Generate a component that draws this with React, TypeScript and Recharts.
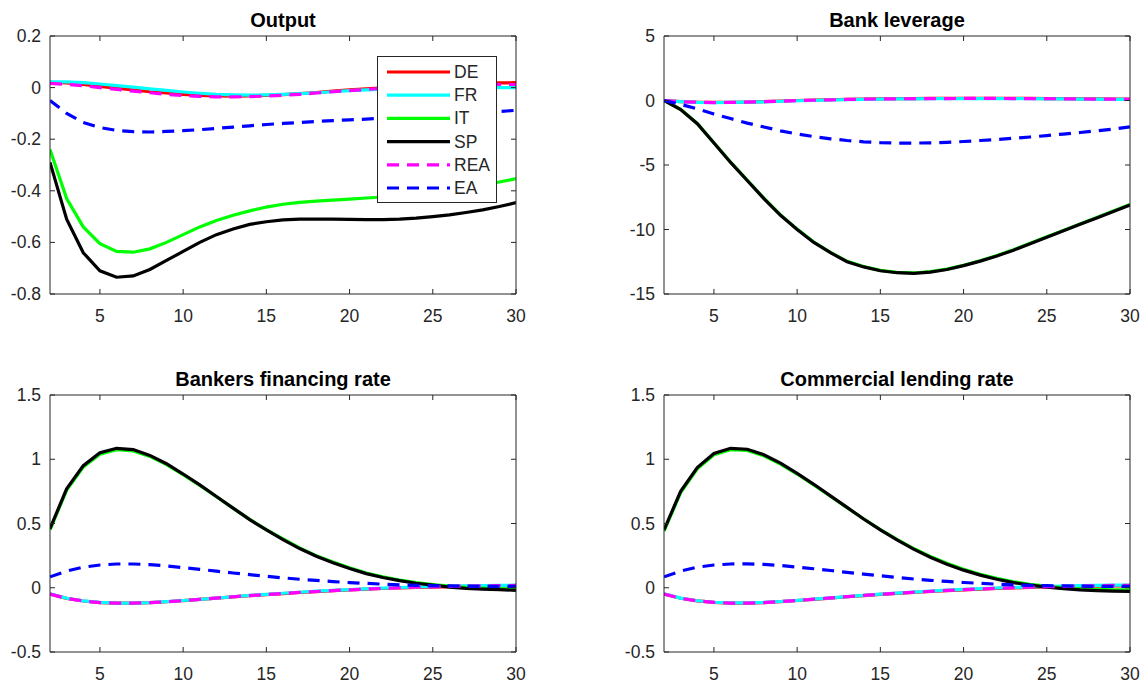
import { Line, LineChart, XAxis, YAxis } from "recharts";

const periods = [2, 3, 4, 5, 6, 7, 8, 9, 10, 11, 12, 13, 14, 15, 16, 17, 18, 19, 20, 21, 22, 23, 24, 25, 26, 27, 28, 29, 30];
const xTicks = [5, 10, 15, 20, 25, 30];

// Output
const outDE = [0.02, 0.018, 0.012, 0.005, -0.002, -0.009, -0.016, -0.021, -0.026, -0.03, -0.032, -0.033, -0.032, -0.03, -0.027, -0.023, -0.019, -0.014, -0.009, -0.005, -0.001, 0.003, 0.007, 0.01, 0.013, 0.015, 0.017, 0.018, 0.019];
const outFR = [0.022, 0.022, 0.019, 0.014, 0.008, 0.002, -0.005, -0.011, -0.017, -0.022, -0.026, -0.028, -0.029, -0.028, -0.026, -0.023, -0.02, -0.016, -0.012, -0.009, -0.006, -0.003, -0.001, 0.0, 0.001, 0.001, 0.001, 0.0, 0.0];
const outIT = [-0.24, -0.43, -0.54, -0.605, -0.635, -0.638, -0.625, -0.6, -0.57, -0.54, -0.515, -0.495, -0.478, -0.463, -0.452, -0.445, -0.44, -0.436, -0.432, -0.428, -0.424, -0.418, -0.412, -0.405, -0.397, -0.388, -0.378, -0.366, -0.353];
const outSP = [-0.29, -0.51, -0.64, -0.71, -0.735, -0.73, -0.705, -0.67, -0.635, -0.6, -0.57, -0.548, -0.53, -0.52, -0.513, -0.51, -0.51, -0.51, -0.511, -0.512, -0.512, -0.51, -0.506, -0.5, -0.493, -0.484, -0.474, -0.461, -0.446];
const outREA = [0.016, 0.013, 0.007, 0.0, -0.007, -0.014, -0.02, -0.026, -0.031, -0.034, -0.036, -0.036, -0.035, -0.033, -0.03, -0.026, -0.021, -0.016, -0.012, -0.007, -0.003, 0.0, 0.003, 0.006, 0.008, 0.01, 0.011, 0.012, 0.012];
const outEA = [-0.05, -0.1, -0.135, -0.155, -0.166, -0.171, -0.172, -0.17, -0.167, -0.163, -0.158, -0.153, -0.148, -0.143, -0.139, -0.135, -0.131, -0.128, -0.125, -0.122, -0.119, -0.116, -0.113, -0.11, -0.106, -0.102, -0.098, -0.093, -0.088];

// Bank leverage
const levDE = [0, -0.08, -0.13, -0.15, -0.14, -0.12, -0.08, -0.04, 0.0, 0.03, 0.06, 0.09, 0.11, 0.13, 0.14, 0.15, 0.16, 0.16, 0.17, 0.17, 0.17, 0.16, 0.16, 0.15, 0.14, 0.13, 0.12, 0.11, 0.1];
const levFR = [0, -0.09, -0.14, -0.16, -0.15, -0.13, -0.1, -0.06, -0.02, 0.01, 0.04, 0.07, 0.09, 0.11, 0.12, 0.13, 0.14, 0.14, 0.15, 0.15, 0.15, 0.14, 0.14, 0.13, 0.12, 0.11, 0.1, 0.09, 0.08];
const levIT = [0, -0.68, -1.78, -3.27, -4.77, -6.17, -7.57, -8.87, -9.97, -10.97, -11.77, -12.47, -12.87, -13.17, -13.32, -13.37, -13.27, -13.07, -12.77, -12.42, -12.02, -11.57, -11.07, -10.57, -10.07, -9.57, -9.07, -8.57, -8.07];
const levSP = [0, -0.7, -1.8, -3.3, -4.8, -6.2, -7.6, -8.9, -10.0, -11.0, -11.8, -12.5, -12.9, -13.2, -13.35, -13.4, -13.3, -13.1, -12.8, -12.45, -12.05, -11.6, -11.1, -10.6, -10.1, -9.6, -9.1, -8.6, -8.1];
const levREA = [0, -0.09, -0.14, -0.16, -0.15, -0.12, -0.09, -0.05, -0.01, 0.02, 0.05, 0.08, 0.1, 0.12, 0.13, 0.14, 0.15, 0.15, 0.16, 0.16, 0.16, 0.15, 0.15, 0.14, 0.13, 0.12, 0.11, 0.1, 0.09];
const levEA = [0, -0.3, -0.65, -1.05, -1.4, -1.75, -2.05, -2.35, -2.6, -2.8, -2.97, -3.1, -3.2, -3.27, -3.3, -3.3, -3.28, -3.24, -3.18, -3.1, -3.02, -2.93, -2.83, -2.72, -2.6, -2.48, -2.35, -2.22, -2.05];

// Bankers financing rate
const finDE = [-0.05, -0.083, -0.103, -0.115, -0.12, -0.12, -0.116, -0.109, -0.1, -0.091, -0.081, -0.071, -0.062, -0.053, -0.045, -0.037, -0.03, -0.023, -0.017, -0.011, -0.006, -0.002, 0.002, 0.005, 0.008, 0.01, 0.012, 0.013, 0.014];
const finFR = [-0.048, -0.082, -0.102, -0.114, -0.119, -0.119, -0.115, -0.108, -0.099, -0.09, -0.08, -0.07, -0.06, -0.051, -0.043, -0.035, -0.027, -0.02, -0.014, -0.008, -0.003, 0.002, 0.006, 0.009, 0.012, 0.015, 0.017, 0.019, 0.02];
const finIT = [0.45, 0.76, 0.94, 1.04, 1.075, 1.065, 1.022, 0.958, 0.88, 0.796, 0.708, 0.62, 0.532, 0.453, 0.38, 0.31, 0.25, 0.2, 0.155, 0.115, 0.085, 0.06, 0.04, 0.025, 0.012, 0.003, -0.003, -0.007, -0.01];
const finSP = [0.46, 0.77, 0.95, 1.05, 1.085, 1.075, 1.03, 0.965, 0.885, 0.8, 0.71, 0.62, 0.53, 0.45, 0.375, 0.305, 0.245, 0.195, 0.15, 0.11, 0.08, 0.055, 0.035, 0.02, 0.005, -0.005, -0.01, -0.015, -0.02];
const finREA = [-0.049, -0.083, -0.103, -0.115, -0.12, -0.12, -0.116, -0.109, -0.1, -0.09, -0.08, -0.07, -0.061, -0.052, -0.044, -0.036, -0.029, -0.022, -0.016, -0.01, -0.005, 0.0, 0.004, 0.007, 0.01, 0.013, 0.015, 0.017, 0.018];
const finEA = [0.085, 0.13, 0.16, 0.177, 0.185, 0.185, 0.18, 0.17, 0.157, 0.143, 0.129, 0.115, 0.102, 0.089, 0.077, 0.066, 0.057, 0.048, 0.04, 0.034, 0.028, 0.023, 0.019, 0.016, 0.014, 0.012, 0.011, 0.01, 0.01];

// Commercial lending rate
const lendDE = [-0.05, -0.082, -0.102, -0.114, -0.119, -0.119, -0.115, -0.108, -0.099, -0.09, -0.08, -0.07, -0.061, -0.052, -0.044, -0.036, -0.029, -0.022, -0.016, -0.01, -0.005, -0.001, 0.003, 0.006, 0.009, 0.011, 0.013, 0.014, 0.015];
const lendFR = [-0.048, -0.081, -0.101, -0.113, -0.118, -0.118, -0.114, -0.107, -0.098, -0.089, -0.079, -0.069, -0.059, -0.05, -0.042, -0.034, -0.026, -0.019, -0.013, -0.007, -0.002, 0.003, 0.007, 0.01, 0.013, 0.016, 0.018, 0.02, 0.021];
const lendIT = [0.44, 0.74, 0.925, 1.035, 1.075, 1.068, 1.027, 0.963, 0.885, 0.801, 0.712, 0.623, 0.535, 0.452, 0.376, 0.305, 0.244, 0.19, 0.144, 0.105, 0.073, 0.047, 0.027, 0.012, 0.0, -0.008, -0.013, -0.016, -0.017];
const lendSP = [0.45, 0.75, 0.935, 1.045, 1.085, 1.078, 1.035, 0.97, 0.89, 0.805, 0.715, 0.625, 0.535, 0.45, 0.372, 0.3, 0.238, 0.183, 0.137, 0.098, 0.066, 0.04, 0.02, 0.005, -0.007, -0.016, -0.022, -0.026, -0.028];
const lendREA = [-0.049, -0.082, -0.102, -0.114, -0.119, -0.119, -0.115, -0.108, -0.099, -0.089, -0.079, -0.069, -0.06, -0.051, -0.043, -0.035, -0.028, -0.021, -0.015, -0.009, -0.004, 0.001, 0.005, 0.008, 0.011, 0.014, 0.016, 0.018, 0.019];
const lendEA = [0.085, 0.13, 0.16, 0.177, 0.185, 0.186, 0.182, 0.173, 0.161, 0.148, 0.134, 0.12, 0.106, 0.093, 0.08, 0.068, 0.058, 0.049, 0.041, 0.034, 0.028, 0.023, 0.019, 0.016, 0.014, 0.012, 0.011, 0.01, 0.01];

const SERIES = [
  { key: "DE", color: "#ff0000", dashed: false },
  { key: "FR", color: "#00ffff", dashed: false },
  { key: "IT", color: "#00ff00", dashed: false },
  { key: "SP", color: "#000000", dashed: false },
  { key: "REA", color: "#ff00ff", dashed: true },
  { key: "EA", color: "#0000ff", dashed: true },
];

const FONT = '"Liberation Sans", Arial, Helvetica, sans-serif';
const AXIS = "#262626";
const DASH = "12 8";
const LW = 3.2;

function makeRows(cols: number[][]) {
  return periods.map((p, i) => {
    const row: Record<string, number> = { p };
    SERIES.forEach((s, j) => (row[s.key] = cols[j][i]));
    return row;
  });
}

// MATLAB-style ticks: short inward marks, labels outside
const BottomTick = ({ x, y, payload }: any) => (
  <g>
    <line x1={x} x2={x} y1={y} y2={y - 5} stroke={AXIS} />
    <text x={x} y={y + 22} textAnchor="middle" dominantBaseline="central" fontSize={17.5} fill={AXIS} fontFamily={FONT}>
      {payload.value}
    </text>
  </g>
);
const LeftTick = ({ x, y, payload }: any) => (
  <g>
    <line x1={x} x2={x + 5} y1={y} y2={y} stroke={AXIS} />
    <text x={x - 9} y={y} textAnchor="end" dominantBaseline="central" fontSize={17.5} fill={AXIS} fontFamily={FONT}>
      {payload.value}
    </text>
  </g>
);
const TopTick = ({ x, y }: any) => <line x1={x} x2={x} y1={y} y2={y + 5} stroke={AXIS} />;
const RightTick = ({ x, y }: any) => <line x1={x} x2={x - 5} y1={y} y2={y} stroke={AXIS} />;

function LegendBox({ left, top }: { left: number; top: number }) {
  return (
    <svg width={120} height={147} style={{ position: "absolute", left, top, display: "block" }}>
      <rect x={0.5} y={0.5} width={119} height={146} fill="#fff" stroke={AXIS} strokeWidth={1} />
      {SERIES.map((s, i) => {
        const cy = 16 + i * 23.2;
        return (
          <g key={s.key}>
            <line x1={10} x2={73} y1={cy} y2={cy} stroke={s.color} strokeWidth={LW} strokeDasharray={s.dashed ? DASH : undefined} />
            <text x={77} y={cy} dominantBaseline="central" fontSize={17.5} fill={AXIS} fontFamily={FONT}>
              {s.key}
            </text>
          </g>
        );
      })}
    </svg>
  );
}

interface PanelProps {
  title: string;
  left: number;
  top: number;
  width: number;
  height: number;
  // plot box edges, relative to the panel
  box: { top: number; right: number; bottom: number; left: number };
  titleY: number;
  rows: Record<string, number>[];
  yDomain: [number, number];
  yTicks: number[];
  legend?: boolean;
}

function Panel({ title, left, top, width, height, box, titleY, rows, yDomain, yTicks, legend }: PanelProps) {
  const plotMid = (box.left + box.right) / 2;
  // each of the four axes takes 1px, so margins are 1px short of the box
  const margin = { top: box.top - 1, left: box.left - 1, right: width - box.right - 1, bottom: height - box.bottom - 1 };
  return (
    <div style={{ position: "absolute", left, top, width, height }}>
      <div
        style={{
          position: "absolute",
          left: plotMid - 200,
          width: 400,
          top: titleY - 17,
          textAlign: "center",
          fontFamily: FONT,
          fontWeight: "bold",
          fontSize: 20,
          lineHeight: "20px",
          color: "#000",
        }}
      >
        {title}
      </div>
      <LineChart width={width} height={height} data={rows} margin={margin}>
        <XAxis xAxisId="b" dataKey="p" type="number" domain={[2, 30]} ticks={xTicks} interval={0} height={1} tickSize={0} tickMargin={0} tickLine={false} axisLine={{ stroke: AXIS }} tick={<BottomTick />} allowDataOverflow />
        <XAxis xAxisId="t" dataKey="p" orientation="top" type="number" domain={[2, 30]} ticks={xTicks} interval={0} height={1} tickSize={0} tickMargin={0} tickLine={false} axisLine={{ stroke: AXIS }} tick={<TopTick />} allowDataOverflow />
        <YAxis yAxisId="l" type="number" domain={yDomain} ticks={yTicks} interval={0} width={1} tickSize={0} tickMargin={0} tickLine={false} axisLine={{ stroke: AXIS }} tick={<LeftTick />} allowDataOverflow />
        <YAxis yAxisId="r" orientation="right" type="number" domain={yDomain} ticks={yTicks} interval={0} width={1} tickSize={0} tickMargin={0} tickLine={false} axisLine={{ stroke: AXIS }} tick={<RightTick />} allowDataOverflow />
        {SERIES.map((s) => (
          <Line
            key={s.key}
            xAxisId="b"
            yAxisId="l"
            type="linear"
            dataKey={s.key}
            stroke={s.color}
            strokeWidth={LW}
            strokeDasharray={s.dashed ? DASH : undefined}
            dot={false}
            activeDot={false}
            isAnimationActive={false}
          />
        ))}
      </LineChart>
      {legend && <LegendBox left={377} top={56} />}
    </div>
  );
}

export default function App() {
  const outRows = makeRows([outDE, outFR, outIT, outSP, outREA, outEA]);
  const levRows = makeRows([levDE, levFR, levIT, levSP, levREA, levEA]);
  const finRows = makeRows([finDE, finFR, finIT, finSP, finREA, finEA]);
  const lendRows = makeRows([lendDE, lendFR, lendIT, lendSP, lendREA, lendEA]);
  return (
    <div style={{ position: "absolute", left: 0, top: 0, width: 1145, height: 684, background: "#fff", overflow: "hidden" }}>
      <Panel title="Output" left={0} top={0} width={560} height={340} box={{ top: 36, right: 516, bottom: 294, left: 50 }} titleY={27} rows={outRows} yDomain={[-0.8, 0.2]} yTicks={[-0.8, -0.6, -0.4, -0.2, 0, 0.2]} legend />
      <Panel title="Bank leverage" left={560} top={0} width={585} height={340} box={{ top: 36, right: 570, bottom: 294, left: 104 }} titleY={27} rows={levRows} yDomain={[-15, 5]} yTicks={[-15, -10, -5, 0, 5]} />
      <Panel title="Bankers financing rate" left={0} top={340} width={560} height={344} box={{ top: 55, right: 516, bottom: 312, left: 50 }} titleY={46} rows={finRows} yDomain={[-0.5, 1.5]} yTicks={[-0.5, 0, 0.5, 1, 1.5]} />
      <Panel title="Commercial lending rate" left={560} top={340} width={585} height={344} box={{ top: 55, right: 570, bottom: 312, left: 104 }} titleY={46} rows={lendRows} yDomain={[-0.5, 1.5]} yTicks={[-0.5, 0, 0.5, 1, 1.5]} />
    </div>
  );
}
